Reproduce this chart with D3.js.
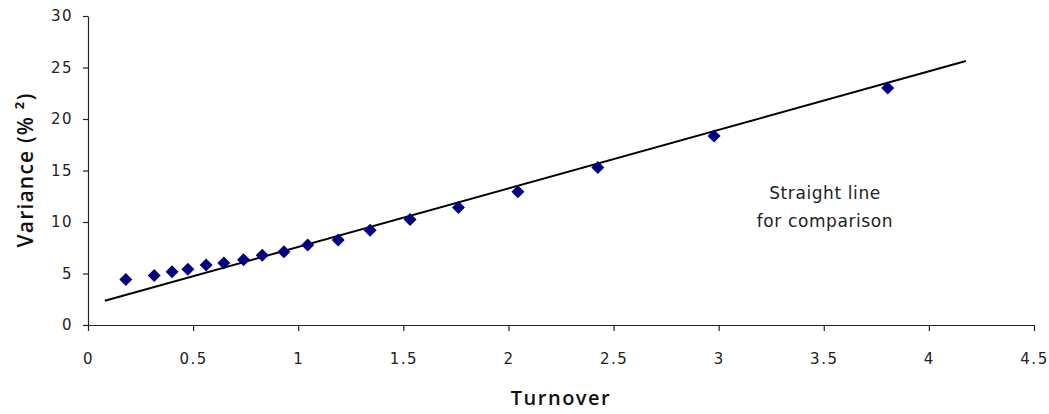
<!DOCTYPE html>
<html>
<head>
<meta charset="utf-8">
<script src="https://cdn.jsdelivr.net/npm/d3@7"></script>
<style>
  html, body { margin: 0; padding: 0; background: #fff; }
  svg { display: block; }
</style>
</head>
<body>
<svg id="chart" width="1049" height="414"></svg>
<script>
// Turnover vs. variance observations
const turnover = [0.18, 0.315, 0.4, 0.475, 0.562, 0.646, 0.74, 0.829, 0.932, 1.045, 1.19, 1.342, 1.532, 1.762, 2.045, 2.425, 2.978, 3.804];
const variance = [4.42, 4.8, 5.18, 5.42, 5.82, 6.02, 6.34, 6.76, 7.1, 7.76, 8.26, 9.21, 10.25, 11.4, 12.94, 15.3, 18.35, 23.0];

// Reference straight line (endpoints)
const refLineX = [0.08, 4.176];
const refLineY = [2.35, 25.63];

const xTicks = [0, 0.5, 1, 1.5, 2, 2.5, 3, 3.5, 4, 4.5];
const xTickLabels = ["0", "0.5", "1", "1.5", "2", "2.5", "3", "3.5", "4", "4.5"];
const yTicks = [0, 5, 10, 15, 20, 25, 30];
const yTickLabels = ["0", "5", "10", "15", "20", "25", "30"];

const svg = d3.select("#chart");
const margin = { left: 88, right: 15, top: 16, bottom: 89 };
const W = 1049, H = 414;

const x = d3.scaleLinear().domain([0, 4.5]).range([margin.left, W - margin.right]);
const y = d3.scaleLinear().domain([0, 30]).range([H - margin.bottom, margin.top]);

const tickFont = "'DejaVu Sans', sans-serif";

// X axis
const xAxis = svg.append("g")
  .attr("transform", `translate(0,${y(0)})`)
  .call(d3.axisBottom(x).tickValues(xTicks)
    .tickFormat((d, i) => xTickLabels[i])
    .tickSizeInner(6).tickSizeOuter(0).tickPadding(22));

// Y axis
const yAxis = svg.append("g")
  .attr("transform", `translate(${x(0)},0)`)
  .call(d3.axisLeft(y).tickValues(yTicks)
    .tickFormat((d, i) => yTickLabels[i])
    .tickSizeInner(5).tickSizeOuter(0).tickPadding(10));

[xAxis, yAxis].forEach(g => {
  g.selectAll("path.domain").attr("stroke", "#222").attr("stroke-width", 1.2);
  g.selectAll(".tick line").attr("stroke", "#222").attr("stroke-width", 1.2);
  g.selectAll(".tick text")
    .attr("fill", "#222")
    .style("font-family", tickFont)
    .style("font-size", "15px")
    .style("letter-spacing", "1.5px");
});

// Straight comparison line
svg.append("line")
  .attr("x1", x(refLineX[0])).attr("y1", y(refLineY[0]))
  .attr("x2", x(refLineX[1])).attr("y2", y(refLineY[1]))
  .attr("stroke", "#000").attr("stroke-width", 2);

// Diamond markers
const r = 6.5;
const diamond = `M0,${-r}L${r},0L0,${r}L${-r},0Z`;
svg.append("g").selectAll("path")
  .data(turnover.map((t, i) => [t, variance[i]]))
  .join("path")
  .attr("d", diamond)
  .attr("transform", d => `translate(${x(d[0])},${y(d[1])})`)
  .attr("fill", "#000080");

// Annotation
const note = svg.append("text")
  .attr("x", 825).attr("text-anchor", "middle")
  .attr("fill", "#222")
  .style("font-family", tickFont)
  .style("font-size", "17px")
  .style("letter-spacing", "0.6px");
note.append("tspan").attr("x", 825).attr("y", 199).text("Straight line");
note.append("tspan").attr("x", 825).attr("y", 227).text("for comparison");

// Axis titles
svg.append("text")
  .attr("x", 561).attr("y", 405)
  .attr("text-anchor", "middle")
  .attr("fill", "#111")
  .style("font-family", "'Open Sans', sans-serif")
  .style("font-weight", 600)
  .style("font-size", "20px")
  .style("letter-spacing", "1.5px")
  .text("Turnover");

svg.append("text")
  .attr("transform", "translate(33,170) rotate(-90)")
  .attr("text-anchor", "middle")
  .attr("fill", "#111")
  .style("font-family", "'Open Sans', sans-serif")
  .style("font-weight", 600)
  .style("font-size", "21px")
  .style("letter-spacing", "1.2px")
  .text("Variance (% ²)");
</script>
</body>
</html>
